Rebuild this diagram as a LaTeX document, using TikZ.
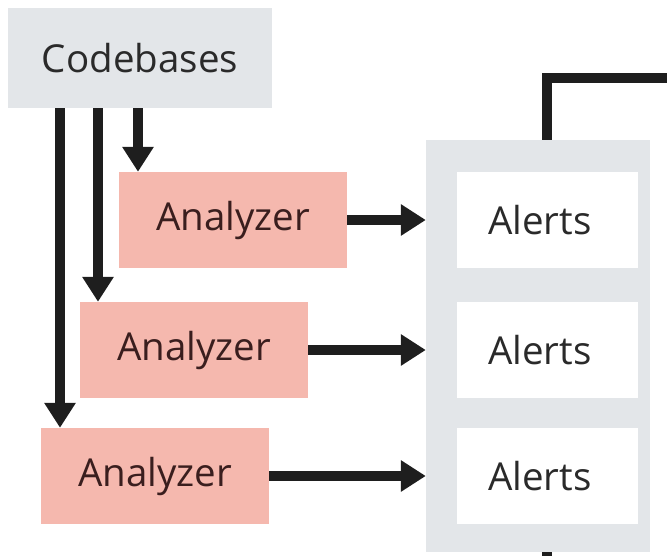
\documentclass[tikz,border=0pt]{standalone}
\usepackage{fontspec}
\setmainfont{Open Sans}
\usetikzlibrary{arrows.meta}
\definecolor{boxgray}{HTML}{E3E6E9}
\definecolor{salmon}{HTML}{F5B8AE}
\definecolor{inkline}{HTML}{1E1E1E}
\definecolor{anatext}{HTML}{3A1E1E}
\definecolor{plaintext}{HTML}{2A2A2A}

\begin{document}
\begin{tikzpicture}[x=1pt, y=-1pt, every node/.style={rectangle, inner sep=0pt,
  font=\fontsize{38.5}{44}\selectfont}, >={Triangle[length=25pt,width=30pt]},
  ana/.style={fill=salmon, text=anatext, minimum width=228pt, minimum height=96pt},
  alert/.style={fill=white, text=plaintext, minimum height=96pt, inner xsep=31pt,
    text width=119pt, align=left},
  link/.style={draw=inkline, line width=10pt, line join=miter}]
  \useasboundingbox (0,0) rectangle (667,556);
  \node[fill=boxgray, text=plaintext, minimum width=264pt, minimum height=100pt]
    (code) at (140,58) {Codebases};
  \node[fill=boxgray, minimum width=224pt, minimum height=412pt] (store) at (538,346) {};
  \foreach \i/\ax/\ay/\cx in {1/233/220/138, 2/194/350/98, 3/155/476/60} {
    \node[ana] (ana\i) at (\ax,\ay) {Analyzer};
    \node[alert] (al\i) at (547.5,\ay) {Alerts};
    \coordinate (drop\i) at (\cx,0);
    \draw[link,->] (code.south -| drop\i) -- (ana\i.north -| drop\i);
    \draw[link,->] (ana\i.east) -- (store.west |- ana\i.east);
  }
  \coordinate (up) at (547,0);
  \coordinate (out) at (690,78);
  \coordinate (down) at (547,575);
  \draw[link] (store.north -| up) |- (out);
  \draw[link] (store.south -| up) -- (down);
\end{tikzpicture}
\end{document}
